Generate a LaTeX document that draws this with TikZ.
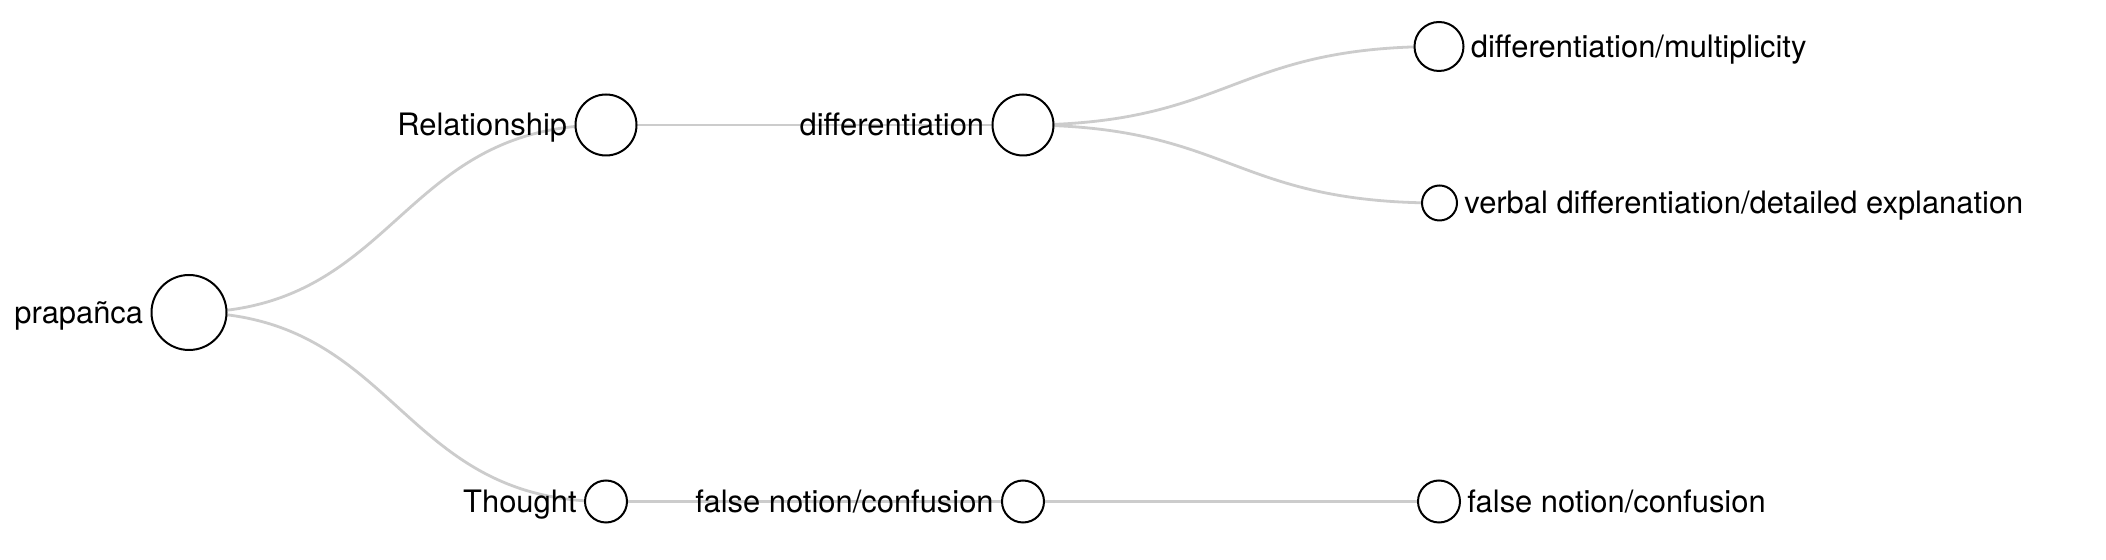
\documentclass[tikz,border=0pt]{standalone}
\usepackage{fontspec}
\setmainfont{TeX Gyre Heros}
\usetikzlibrary{calc,backgrounds}
\begin{document}
\begin{tikzpicture}[x=0.5pt,y=-0.5pt,
  circ/.style={circle,draw=black,fill=white,line width=1pt,inner sep=0pt},
  link/.style={draw=black!20,line width=1.4pt},
  lbl/.style={inner sep=0pt,font=\fontsize{15.45}{18}\selectfont}]
\useasboundingbox (0,0) rectangle (2106,560);
% nodes
\node[circ,minimum size=75pt/2] (p) at (189,312.5) {};
\node[circ,minimum size=61pt/2] (r) at (606,125) {};
\node[circ,minimum size=61pt/2] (d) at (1023,125) {};
\node[circ,minimum size=49pt/2] (dm) at (1439,46.5) {};
\node[circ,minimum size=35pt/2] (vd) at (1439.5,203) {};
\node[circ,minimum size=42pt/2] (t) at (606,501.5) {};
\node[circ,minimum size=42pt/2] (f) at (1023,501.5) {};
\node[circ,minimum size=42pt/2] (f2) at (1439,501.5) {};
% links
\begin{pgfonlayer}{background}
\fill[white] (0,0) rectangle (2106,560);
\coordinate (m1) at ($(p.center)!0.5!(r.center)$);
\coordinate (m2) at ($(d.center)!0.5!(dm.center)$);
\draw[link] (p.center) .. controls (m1 |- p.center) and (m1 |- r.center) .. (r.center);
\draw[link] (p.center) .. controls (m1 |- p.center) and (m1 |- t.center) .. (t.center);
\draw[link] (r.center) -- (d.center);
\draw[link] (d.center) .. controls (m2 |- d.center) and (m2 |- dm.center) .. (dm.center);
\draw[link] (d.center) .. controls (m2 |- d.center) and (m2 |- vd.center) .. (vd.center);
\draw[link] (t.center) -- (f.center);
\draw[link] (f.center) -- (f2.center);
\end{pgfonlayer}
% labels
\node[lbl,anchor=base east] (lp) at ($(p.west)+(-7,11)$) {prapañca};
\node[lbl,anchor=base east] (lr) at ($(r.west)+(-7,11)$) {Relationship};
\node[lbl,anchor=base east] (ld) at ($(d.west)+(-7,11)$) {differentiation};
\node[lbl,anchor=base east] (lt) at ($(t.west)+(-7,11)$) {Thought};
\node[lbl,anchor=base east] (lf) at ($(f.west)+(-7,11)$) {false notion/confusion};
\node[lbl,anchor=base west] (ldm) at ($(dm.east)+(6,11)$) {differentiation/multiplicity};
\node[lbl,anchor=base west] (lvd) at ($(vd.east)+(6,11)$) {verbal differentiation/detailed explanation};
\node[lbl,anchor=base west] (lf2) at ($(f2.east)+(6,11)$) {false notion/confusion};
\end{tikzpicture}
\end{document}
